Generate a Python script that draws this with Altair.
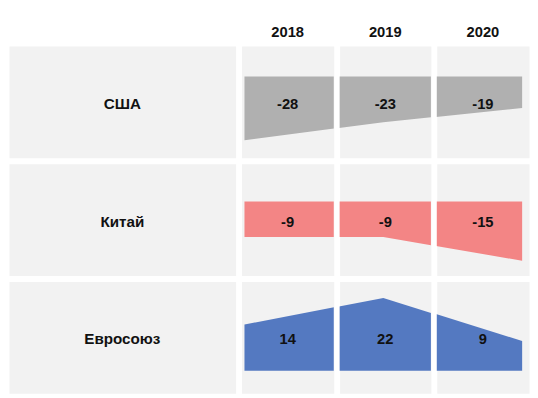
import altair as alt
import pandas as pd

years = ["2018", "2019", "2020"]
regions = ["США", "Китай", "Евросоюз"]
usa = [-28, -23, -19]
china = [-9, -9, -15]
eu = [14, 22, 9]
series = [usa, china, eu]
baselines = [-10.2, 0, 0]
colors = ["#b0b0b0", "#f38585", "#5479c1"]
y_domains = [[-32.94, -1.71], [-18.74, 9.55], [-6.82, 27.0]]

FONT = "Liberation Sans"
W_LABEL = 231
W_COLS = [94, 93, 94]
SP = 4
H = 114
H_HEAD = 25
PANEL = "#f2f2f2"

# continuous position of the series across the three columns (index 0..2)
U0_PX = 246.0
U_PX = 139.5
col_starts = [243, 341, 438]


def cell(ri, ci):
    vals = series[ri]
    df = pd.DataFrame({
        "u": list(range(len(years))),
        "v": vals,
        "base": [baselines[ri]] * len(vals),
        "label": [str(v) for v in vals],
        "year": years,
    })
    s = col_starts[ci]
    w = W_COLS[ci]
    dom = [(s - U0_PX) / U_PX, (s + w - U0_PX) / U_PX]
    area = alt.Chart(df).mark_area(clip=True, color=colors[ri], opacity=1).encode(
        x=alt.X("u:Q", scale=alt.Scale(domain=dom, nice=False, zero=False), axis=None),
        y=alt.Y("v:Q", scale=alt.Scale(domain=y_domains[ri], nice=False, zero=False), axis=None),
        y2=alt.Y2("base:Q"),
    )
    txt = alt.Chart(df).transform_filter(
        alt.datum.year == years[ci]
    ).mark_text(font=FONT, fontSize=15, fontWeight="bold", color="#111111", baseline="middle", align="center").encode(
        x=alt.value(w / 2),
        y=alt.value(59),
        text="label:N",
    )
    return alt.layer(area, txt).properties(width=w, height=H)


def label_cell(ri):
    df = pd.DataFrame({"name": [regions[ri]]})
    return alt.Chart(df).mark_text(font=FONT, fontSize=15.5, fontWeight="bold", color="#111111", baseline="middle", align="center").encode(
        x=alt.value(W_LABEL / 2),
        y=alt.value(59),
        text="name:N",
    ).properties(width=W_LABEL, height=H)


def head_cell(text, w):
    df = pd.DataFrame({"t": [text]})
    return alt.Chart(df).mark_text(font=FONT, fontSize=15, fontWeight="bold", color="#111111", baseline="middle", align="center").encode(
        x=alt.value(w / 2),
        y=alt.value(20),
        text="t:N",
    ).properties(width=w, height=H_HEAD, view=alt.ViewBackground(fill="white", stroke="transparent"))


header = alt.hconcat(
    head_cell("", W_LABEL),
    *[head_cell(y, W_COLS[i]) for i, y in enumerate(years)],
    spacing=SP,
)

rows = []
for ri in range(len(regions)):
    rows.append(alt.hconcat(label_cell(ri), *[cell(ri, ci) for ci in range(3)], spacing=SP))

chart = alt.vconcat(header, *rows, spacing=SP).properties(
    padding=0, background="white"
).configure_view(fill=PANEL, stroke="transparent")

chart.save("out.html", embed_options={"renderer": "svg", "actions": False})
